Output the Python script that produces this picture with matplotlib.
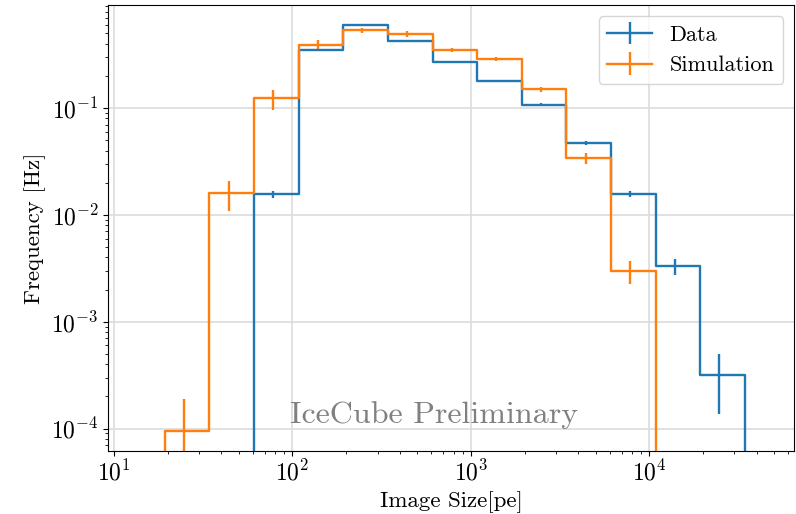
import numpy as np
import matplotlib
matplotlib.use("Agg")
import matplotlib.pyplot as plt

# Computer Modern look (LaTeX style)
plt.rcParams["font.family"] = "serif"
plt.rcParams["font.serif"] = ["cmr10"]
plt.rcParams["mathtext.fontset"] = "cm"
plt.rcParams["axes.formatter.use_mathtext"] = True
plt.rcParams["axes.unicode_minus"] = False

# log-spaced bins, 4 per decade; points at (arithmetic) bin centres
bin_edges = np.logspace(1, 4.75, 16)
bin_centers = 0.5 * (bin_edges[:-1] + bin_edges[1:])

# rates in Hz
data_rate = [0, 0, 0, 0.0157, 0.349, 0.598, 0.424, 0.270, 0.179, 0.108,
             0.0473, 0.0158, 0.00332, 3.16e-4, 0]
data_err = [0, 0, 0, 0.0012, 0.006, 0.008, 0.007, 0.005, 0.004, 0.003,
            0.002, 0.0011, 0.00058, 1.8e-4, 0]
sim_rate = [0, 9.5e-5, 0.0159, 0.123, 0.392, 0.534, 0.497, 0.351, 0.288,
            0.151, 0.0343, 0.00298, 0, 0, 0]
sim_err = [0, 9.5e-5, 0.005, 0.026, 0.04, 0.03, 0.03, 0.015, 0.012,
           0.008, 0.004, 0.0007, 0, 0, 0]

fig, ax = plt.subplots(figsize=(7.96, 5.14), dpi=100)
fig.subplots_adjust(left=0.136, right=0.998, top=0.990, bottom=0.123)

ax.set_xscale("log")
ax.set_yscale("log")

ax.errorbar(bin_centers, data_rate, yerr=data_err, drawstyle="steps-mid",
            color="#1f77b4", lw=1.7, label="Data")
ax.errorbar(bin_centers, sim_rate, yerr=sim_err, drawstyle="steps-mid",
            color="#ff7f0e", lw=1.7, label="Simulation")

ax.set_xlim(9.3, 65000)
ax.set_ylim(6.2e-5, 0.92)
ax.grid(True, which="major", color="#dcdcdc", lw=1.2)
ax.set_axisbelow(True)

ax.set_xlabel("Image Size[pe]", fontsize=16.5)
ax.set_ylabel("Frequency [Hz]", fontsize=16.5)
ax.tick_params(axis="both", which="major", labelsize=17)

ax.text(0.475, 0.062, "IceCube Preliminary", transform=ax.transAxes,
        ha="center", va="baseline", fontsize=23, color="gray")

ax.legend(loc="upper right", fontsize=16)

plt.savefig("out.png", dpi=100)
